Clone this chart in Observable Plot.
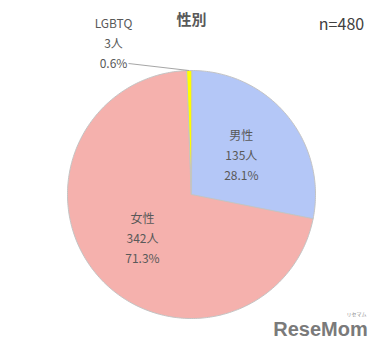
<!DOCTYPE html>
<html>
<head>
<meta charset="utf-8">
<script src="https://cdn.jsdelivr.net/npm/d3@7"></script>
<script src="https://cdn.jsdelivr.net/npm/@observablehq/plot@0.6"></script>
<style>
  html, body { margin: 0; padding: 0; background: #fff; }
  #chart { width: 386px; height: 352px; }
</style>
</head>
<body>
<div id="chart"></div>
<script>
// ---- data ----
const categories = ["男性", "女性", "LGBTQ"];
const counts = [135, 342, 3];
const percentLabels = ["28.1%", "71.3%", "0.6%"];
const sliceColors = ["#b4c7f7", "#f5b1ad", "#ffff00"];
const titleText = "性別";
const nText = "n=480";

// ---- layout (pixel-like units) ----
const W = 386, H = 352;
const CX = 191, CY = 194, R = 124;
const labelRadius = 0.52 * R;
const outsideLabel = {x: 113, y: 41};

const arcs = d3.pie().sort(null).value(d => d)(counts);

const polyPts = [];
arcs.forEach((a, i) => {
  const cat = categories[i];
  polyPts.push({cat, x: CX, y: CY});
  const steps = Math.max(2, Math.ceil((a.endAngle - a.startAngle) / (Math.PI / 180)));
  for (let k = 0; k <= steps; k++) {
    const t = a.startAngle + (a.endAngle - a.startAngle) * k / steps;
    polyPts.push({cat, x: CX + R * Math.sin(t), y: CY - R * Math.cos(t)});
  }
});

const labels = arcs.map((a, i) => {
  const mid = (a.startAngle + a.endAngle) / 2;
  const small = (a.endAngle - a.startAngle) < 0.1;
  return {
    text: `${categories[i]}\n${counts[i]}人\n${percentLabels[i]}`,
    x: small ? outsideLabel.x : CX + labelRadius * Math.sin(mid),
    y: small ? outsideLabel.y : CY - labelRadius * Math.cos(mid),
    small,
    ex: CX + R * Math.sin(mid),
    ey: CY - R * Math.cos(mid)
  };
});
const leaders = labels.filter(d => d.small).map(d => ({x1: d.x + 15, y1: d.y + 22, x2: d.ex, y2: d.ey}));

const chart = Plot.plot({
  width: W,
  height: H,
  margin: 0,
  x: {domain: [0, W], range: [0, W], axis: null},
  y: {domain: [0, H], range: [0, H], axis: null},
  color: {domain: categories, range: sliceColors},
  style: {fontFamily: "'Noto Sans CJK JP', 'Noto Sans', sans-serif", background: "#fff"},
  marks: [
    Plot.line(polyPts, {x: "x", y: "y", z: "cat", fill: "cat", stroke: "#c4c4c4", strokeWidth: 1, curve: "linear-closed"}),
    Plot.link(leaders, {x1: "x1", y1: "y1", x2: "x2", y2: "y2", stroke: "#a6a6a6", strokeWidth: 1}),
    Plot.text(labels, {x: "x", y: "y", text: "text", fill: "#595959", fontSize: 12, lineHeight: 1.65}),
    Plot.text([titleText], {x: () => 191, y: () => 20, text: d => d, fontSize: 15, fontWeight: "bold", fill: "#595959"}),
    Plot.text([nText], {x: () => 341, y: () => 24, text: d => d, fontSize: 16, fill: "#404040"}),
    Plot.text(["ReseMom"], {x: () => 320, y: () => 329, text: d => d, fontSize: 20, fontWeight: "bold", fill: "#7a7a7a", fontFamily: "'Liberation Sans', sans-serif", letterSpacing: "-0.5px"}),
    Plot.text(["リセマム"], {x: () => 356, y: () => 314, text: d => d, fontSize: 5, fill: "#8a8a8a"})
  ]
});
document.getElementById("chart").appendChild(chart);
</script>
</body>
</html>
